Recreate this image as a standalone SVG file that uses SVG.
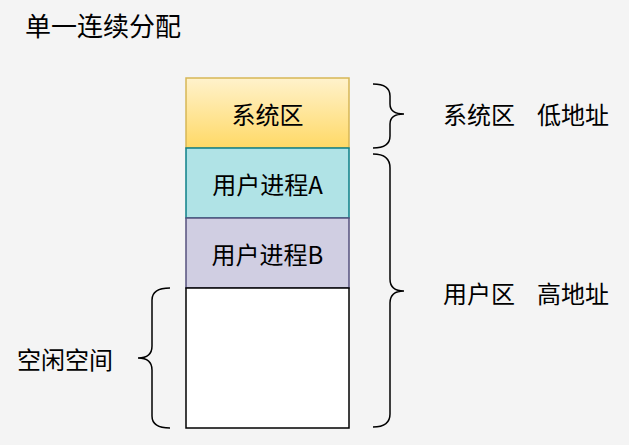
<svg xmlns="http://www.w3.org/2000/svg" width="629" height="445" viewBox="0 0 629 445">
<defs>
<linearGradient id="gY" x1="0" y1="0" x2="0" y2="1"><stop offset="0" stop-color="#fff2cc"/><stop offset="1" stop-color="#ffd966"/></linearGradient>
<style>
text{font-family:"Noto Sans CJK SC","Microsoft YaHei","Liberation Sans",sans-serif;font-size:24px;fill:#000;dominant-baseline:central}
.c{text-anchor:middle}
.br{fill:none;stroke:#000;stroke-width:1.5}
</style>
</defs>
<rect width="629" height="445" fill="#f4f4f4"/>
<text x="25" y="24" style="font-size:26px">单一连续分配</text>
<g id="sys"><rect x="186" y="78" width="163" height="70" fill="url(#gY)" stroke="#d6b656" stroke-width="1.5"/><text class="c" x="267.5" y="113">系统区</text></g>
<g id="procA"><rect x="186" y="148" width="163" height="70" fill="#b0e3e6" stroke="#0e8088" stroke-width="1.5"/><text class="c" x="267.5" y="183">用户进程A</text></g>
<g id="procB"><rect x="186" y="218" width="163" height="70" fill="#d0cee2" stroke="#56517e" stroke-width="1.5"/><text class="c" x="267.5" y="253">用户进程B</text></g>
<g id="free"><rect x="186" y="288" width="163" height="140" fill="#ffffff" stroke="#000" stroke-width="1.5"/></g>
<g id="braces">
<path class="br" d="M373,84 Q390,84 390,96 L390,104 Q390,114 404,114 Q390,114 390,124 L390,136 Q390,148 373,148"/>
<path class="br" d="M373,154 Q390,154 390,168 L390,279 Q390,291 404,291 Q390,291 390,303 L390,414 Q390,427 373,427"/>
<path class="br" d="M170,288 Q152,288 152,300 L152,346 Q152,358 138,358 Q152,358 152,370 L152,416 Q152,428 170,428"/>
</g>
<g id="labels">
<text x="443" y="113">系统区</text><text x="537" y="113">低地址</text>
<text x="443" y="292">用户区</text><text x="537" y="292">高地址</text>
<text x="17" y="358">空闲空间</text>
</g>
</svg>
